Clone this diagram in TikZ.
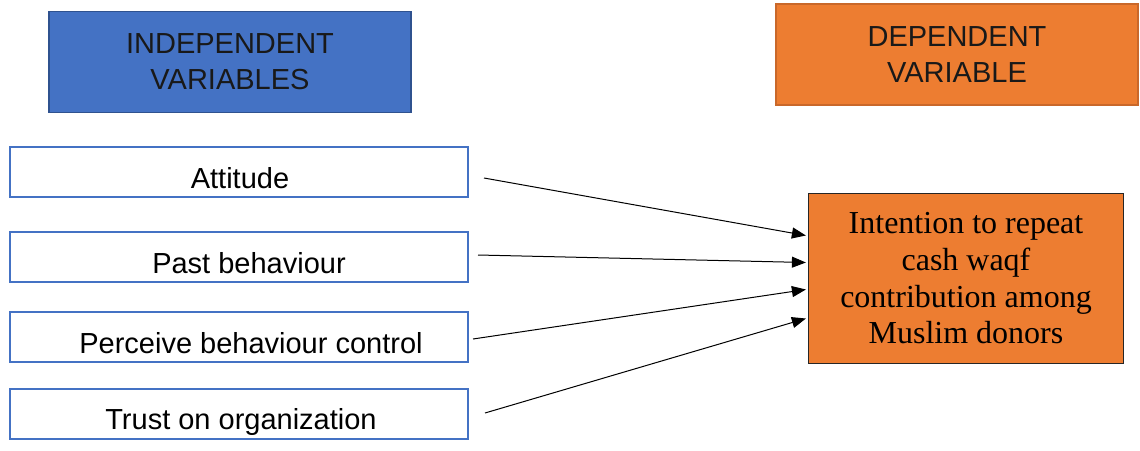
\documentclass[tikz,border=0pt]{standalone}
\usepackage{fontspec}
\setmainfont{Liberation Serif}
\newfontfamily\arialf{Liberation Sans}
\usetikzlibrary{arrows.meta,calc}
\definecolor{hblue}{HTML}{4472C4}
\definecolor{hblueD}{HTML}{2F528F}
\definecolor{horange}{HTML}{ED7D31}
\definecolor{horangeD}{HTML}{C9682A}
\tikzset{
  hdr/.style={draw, line width=1.5pt, minimum width=362pt, minimum height=101pt, inner sep=0pt, align=center,
    font=\arialf\fontsize{29}{36}\selectfont, text=black!90},
  lbox/.style={draw=hblue, line width=2pt, fill=white, minimum width=458pt, minimum height=50pt, inner sep=0pt},
  ltxt/.style={inner sep=0pt, text height=30pt, text depth=0pt, font=\arialf\fontsize{29}{36}\selectfont, text=black},
  obox/.style={draw=black!85, line width=1.2pt, fill=horange, minimum width=315pt, minimum height=170pt, inner sep=0pt,
    align=center, font=\fontsize{32}{36.7}\selectfont, text=black},
  arr/.style={-{Triangle[length=14pt,width=11pt]}, line width=1pt, black}
}
\begin{document}
\begin{tikzpicture}[x=1pt,y=-1pt]
\useasboundingbox (0,0) rectangle (1140,450);
\node[hdr, fill=hblue, draw=hblueD] (ind) at (230,62) {INDEPENDENT\\VARIABLES};
\node[hdr, fill=horange, draw=horangeD] (dep) at (957,54.5) {DEPENDENT\\VARIABLE};
\node[lbox] (att) at (239,172) {};
\node[lbox] (past) at (239,257) {};
\node[lbox] (pbc) at (239,337) {};
\node[lbox] (trust) at (239,414) {};
\node[ltxt] (attT) at ($(att)+(1,1)$) {Attitude};
\node[ltxt] (pastT) at ($(past)+(10,1)$) {Past behaviour};
\node[ltxt] (pbcT) at ($(pbc)+(12,1)$) {Perceive behaviour control};
\node[ltxt] (trustT) at ($(trust)+(2,0)$) {Trust on organization};
\node[obox] (out) at (966,278.5) {Intention to repeat\\cash waqf\\contribution among\\Muslim donors};
\coordinate (s1) at ($(att.east)+(15,6)$);
\coordinate (s2) at ($(past.east)+(9,-2)$);
\coordinate (s3) at ($(pbc.east)+(4,2)$);
\coordinate (s4) at ($(trust.east)+(16,-1)$);
\coordinate (e1) at ($(out.west)+(-2,-43)$);
\coordinate (e2) at ($(out.west)+(-2,-16)$);
\coordinate (e3) at ($(out.west)+(-2,11)$);
\coordinate (e4) at ($(out.west)+(-2,40)$);
\draw[arr] (s1) -- (e1);
\draw[arr] (s2) -- (e2);
\draw[arr] (s3) -- (e3);
\draw[arr] (s4) -- (e4);
\end{tikzpicture}
\end{document}
